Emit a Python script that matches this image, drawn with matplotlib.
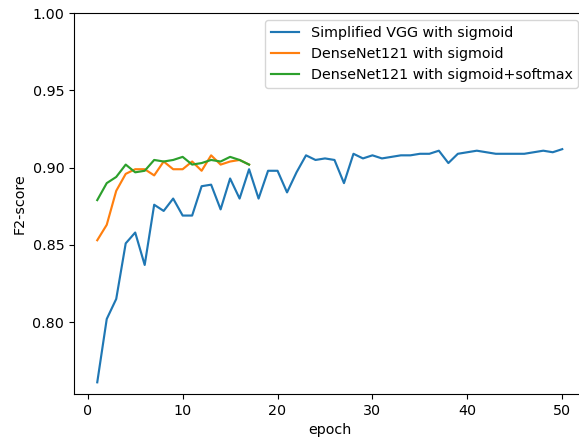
import numpy as np
import matplotlib
matplotlib.use("Agg")
import matplotlib.pyplot as plt

# F2-score per epoch
vgg_sigmoid = [0.761, 0.802, 0.815, 0.851, 0.858, 0.837, 0.876, 0.872, 0.880, 0.869,
               0.869, 0.888, 0.889, 0.873, 0.893, 0.880, 0.899, 0.880, 0.898, 0.898,
               0.884, 0.897, 0.908, 0.905, 0.906, 0.905, 0.890, 0.909, 0.906, 0.908,
               0.906, 0.907, 0.908, 0.908, 0.909, 0.909, 0.911, 0.903, 0.909, 0.910,
               0.911, 0.910, 0.909, 0.909, 0.909, 0.909, 0.910, 0.911, 0.910, 0.912]
densenet_sigmoid = [0.853, 0.863, 0.885, 0.896, 0.899, 0.899, 0.895, 0.904, 0.899, 0.899,
                    0.904, 0.898, 0.908, 0.902, 0.904, 0.905, 0.902]
densenet_softmax = [0.879, 0.890, 0.894, 0.902, 0.897, 0.898, 0.905, 0.904, 0.905, 0.907,
                    0.902, 0.903, 0.905, 0.904, 0.907, 0.905, 0.902]

labels = ["Simplified VGG with sigmoid",
          "DenseNet121 with sigmoid",
          "DenseNet121 with sigmoid+softmax"]

plt.rcParams['font.size'] = 10.3

fig = plt.figure(figsize=(5.79, 4.38), dpi=100)
ax = fig.add_axes([0.1278, 0.1005, 0.8834, 0.8692])

for vals, lab in zip([vgg_sigmoid, densenet_sigmoid, densenet_softmax], labels):
    epochs = np.arange(1, len(vals) + 1)
    ax.plot(epochs, vals, label=lab, linewidth=1.55)

ax.set_ylim(top=1.0)
ax.set_xlabel("epoch")
ax.set_ylabel("F2-score")
ax.legend(loc="upper right")

fig.savefig("out.png", dpi=100)
